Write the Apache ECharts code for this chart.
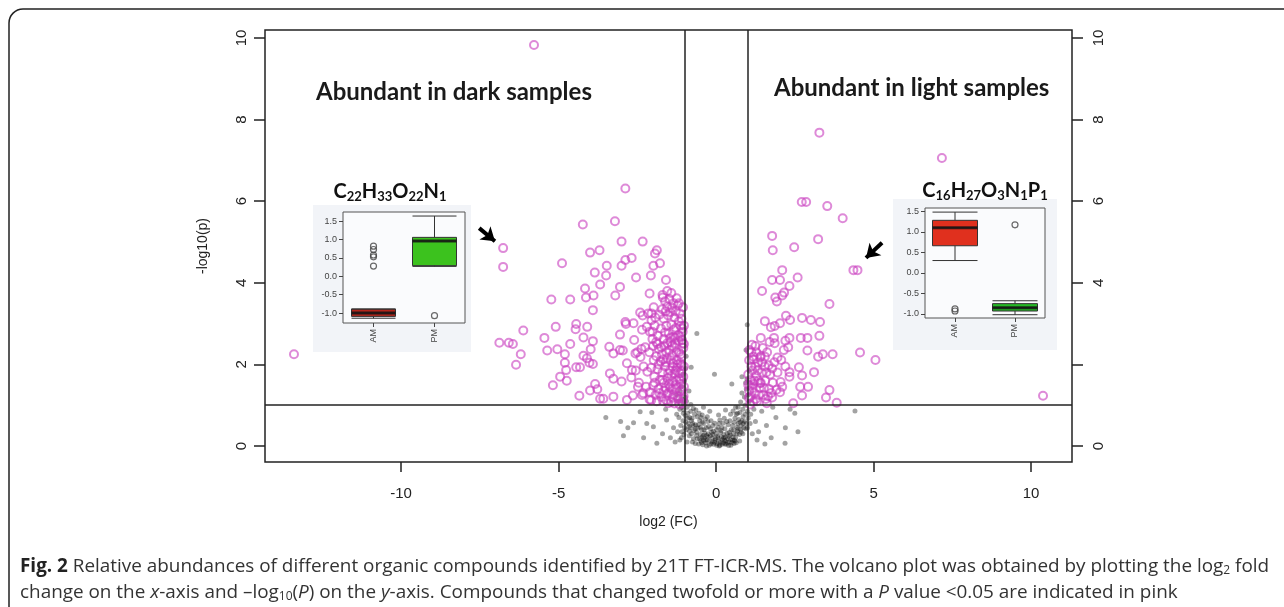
<!DOCTYPE html>
<html>
<head>
<meta charset="utf-8">
<script src="https://cdn.jsdelivr.net/npm/echarts@6/dist/echarts.min.js"></script>
<style>
  html, body { margin: 0; padding: 0; background: #fff; }
  #chart { width: 1284px; height: 607px; }
</style>
</head>
<body>
<div id="chart"></div>
<script>
// volcano plot: x = log2(FC), y = -log10(p)
const xTicks = [-10, -5, 0, 5, 10];
const yTicks = [0, 2, 4, 6, 8, 10];
const yTicksRightLabels = [0, 4, 6, 8, 10];

// significant, lower in light samples (scattered)
const pinkLeft = [
  [-5.78,9.83],[-13.4,2.25],[-6.76,4.85],[-6.76,4.39],[-6.88,2.53],[-6.58,2.53],[-6.45,2.50],[-6.12,2.83],[-6.20,2.25],[-6.35,1.99],
  [-2.88,6.31],[-4.23,5.43],[-3.21,5.51],[-3.00,5.01],[-2.33,5.01],[-4.00,4.74],[-3.70,4.80],[-4.89,4.48],[-2.88,4.56],[-2.68,4.61],
  [-3.00,4.42],[-3.47,4.42],[-1.88,4.80],[-1.94,4.72],[-1.78,4.48],[-1.99,4.42],[-3.85,4.25],[-3.49,4.18],[-2.54,4.13],[-2.07,4.18],
  [-1.59,4.07],[-3.68,3.96],[-3.05,3.90],[-4.16,3.86],[-5.23,3.59],[-4.63,3.59],[-4.13,3.64],[-3.89,3.69],[-3.20,3.69],[-3.91,3.33],
  [-2.11,3.74],[-1.69,3.64],[-5.45,2.65],[-5.36,2.34],[-5.09,2.92],[-5.04,2.37],[-4.80,2.25],[-4.63,2.50],[-4.80,2.04],[-4.76,1.86],
  [-4.95,1.70],[-4.74,1.60],[-5.18,1.49],[-4.44,2.99],[-4.46,2.86],[-4.09,2.92],[-4.21,2.66],[-3.91,2.57],[-3.98,2.37],[-4.21,2.21],
  [-4.10,2.15],[-4.02,2.04],[-3.91,2.01],[-4.44,1.93],[-4.32,1.93],[-3.84,1.52],[-4.00,1.36],[-3.77,1.39],[-4.34,1.23],[-3.68,1.16],
  [-3.58,1.16],[-3.26,1.21],[-3.37,1.78],[-3.26,1.65],[-3.00,1.58],[-3.39,2.43],[-3.26,2.27],[-3.05,2.35],[-2.96,2.34],[-3.05,2.73],
  [-2.88,3.04],[-2.86,2.99],[-2.62,3.01],[-2.41,3.27],[-2.33,3.20],[-2.05,3.25],[-2.83,2.03],[-2.67,1.86],[-2.56,2.27],[-2.37,2.38],
  [-2.69,1.68],[-2.48,1.45],[-2.31,1.29],[-2.64,1.24],[-2.11,1.14],[-2.83,1.13]
];
// dense part next to the -1 cut-off
const pinkLeftDense = [
  [-1.62,3.55],[-1.55,3.42],[-1.48,3.60],[-1.40,3.38],[-1.35,3.50],[-1.28,3.30],[-1.22,3.45],[-1.71,3.35],[-1.80,3.22],[-1.93,3.15],
  [-2.05,3.08],[-1.15,3.25],[-1.10,3.12],[-1.52,3.20],[-1.66,3.12],[-2.20,2.92],[-2.10,2.80],[-1.95,2.95],[-1.85,2.70],[-1.75,2.88],
  [-1.66,2.62],[-1.58,2.95],[-1.50,2.76],[-1.42,2.98],[-1.35,2.68],[-1.27,2.90],[-1.20,2.72],[-1.13,2.95],[-1.06,2.80],[-2.35,2.85],
  [-1.45,2.55],[-1.30,2.52],[-1.18,2.58],[-1.08,2.60],[-1.90,2.55],[-2.02,2.62],[-2.25,2.42],[-2.12,2.30],[-2.00,2.45],[-1.90,2.20],
  [-1.82,2.38],[-1.72,2.25],[-1.64,2.45],[-1.56,2.15],[-1.48,2.35],[-1.40,2.22],[-1.33,2.42],[-1.25,2.10],[-1.18,2.30],[-1.10,2.18],
  [-1.04,2.40],[-1.60,2.05],[-1.36,2.02],[-1.14,2.03],[-2.40,2.18],[-1.76,2.08],[-2.30,1.95],[-2.18,1.82],[-2.06,1.92],[-1.96,1.70],
  [-1.86,1.88],[-1.78,1.62],[-1.70,1.80],[-1.62,1.95],[-1.54,1.66],[-1.46,1.85],[-1.38,1.58],[-1.31,1.78],[-1.24,1.92],[-1.17,1.64],
  [-1.10,1.84],[-1.04,1.70],[-1.50,1.52],[-1.28,1.50],[-1.12,1.52],[-1.66,1.55],[-2.22,1.45],[-2.10,1.32],[-2.00,1.48],[-1.92,1.25],
  [-1.83,1.40],[-1.74,1.20],[-1.66,1.35],[-1.58,1.12],[-1.50,1.30],[-1.42,1.08],[-1.35,1.26],[-1.27,1.40],[-1.20,1.15],[-1.13,1.34],
  [-1.06,1.05],[-1.03,1.22],[-1.88,1.10],[-2.06,1.12],[-1.46,1.44],[-1.60,1.42],[-1.32,1.04],[-1.16,1.02],[-2.35,1.25],[-2.45,1.55],
  [-2.55,1.85],[-2.50,2.30],[-2.60,2.60],[-1.98,3.40],[-2.15,3.25],[-1.25,3.62],[-1.42,3.75],[-1.55,3.80],[-1.70,3.70],[-1.05,3.40],
  [-1.02,2.95],[-1.02,2.50],[-1.02,1.95],[-1.02,1.45],
  [-1.05,1.15],[-1.08,1.38],[-1.12,1.60],[-1.15,1.78],[-1.09,1.98],[-1.12,2.25],[-1.06,2.52],[-1.14,2.68],[-1.07,2.88],[-1.18,3.05],
  [-1.22,1.22],[-1.25,1.62],[-1.28,1.85],[-1.22,2.00],[-1.26,2.30],[-1.30,2.65],[-1.34,2.85],[-1.38,1.18],[-1.40,1.40],[-1.42,1.72],
  [-1.38,1.95],[-1.44,2.10],[-1.40,2.45],[-1.46,2.65],[-1.52,1.05],[-1.55,1.28],[-1.52,1.78],[-1.58,2.30],[-1.55,2.52],[-1.62,2.78],
  [-1.68,1.10],[-1.70,1.62],[-1.68,2.12],[-1.74,2.42],[-1.80,1.30],[-1.82,2.00],[-1.86,2.50],[-1.95,1.55],[-1.98,2.10],[-2.02,2.80],
  [-1.32,3.15],[-1.45,3.28],[-1.18,3.50],[-1.60,3.30]
];
// significant, higher in light samples
const pinkRight = [
  [3.28,7.68],[7.17,7.06],[2.72,5.98],[2.86,5.98],[3.53,5.88],[4.02,5.58],[1.78,5.15],[1.80,4.80],[2.48,4.87],[3.24,5.07],
  [4.36,4.31],[4.49,4.31],[2.10,4.31],[1.78,4.07],[2.03,4.07],[2.59,4.13],[2.33,3.92],[2.16,3.76],[2.10,3.69],[1.88,3.64],
  [1.93,3.54],[1.46,3.80],[3.60,3.48],[2.22,3.19],[2.35,3.09],[2.73,3.14],[3.01,3.09],[3.30,3.04],[1.55,3.06],[1.74,2.91],
  [1.86,2.94],[2.03,3.01],[1.42,2.65],[1.84,2.65],[2.20,2.58],[2.33,2.65],[2.69,2.65],[2.90,2.65],[3.28,2.70],[1.86,2.52],
  [2.29,2.42],[2.90,2.34],[3.24,2.19],[3.39,2.25],[3.70,2.25],[4.57,2.29],[5.06,2.11],[1.14,2.48],[1.19,2.19],[1.40,2.17],
  [1.55,2.19],[1.67,1.98],[1.95,2.17],[2.07,2.11],[2.63,1.93],[2.73,1.73],[2.33,1.81],[3.11,1.81],[2.92,1.45],[3.60,1.37],
  [3.49,1.19],[3.83,1.06],[2.67,1.45],[2.73,1.24],[2.45,1.05],[2.33,1.70],[2.05,1.57],[2.03,1.32],[1.78,1.19],[1.61,1.05],
  [1.40,1.54],[1.19,1.52],[1.08,1.21],[10.38,1.23]
];
const pinkRightDense = [
  [1.05,1.35],[1.10,1.62],[1.15,1.85],[1.22,1.30],[1.28,1.72],[1.33,2.05],[1.38,1.42],[1.45,1.80],[1.50,1.25],[1.56,1.60],
  [1.62,2.30],[1.68,1.40],[1.72,1.75],[1.80,1.55],[1.85,2.05],[1.92,1.38],[1.05,2.10],[1.12,2.30],[1.25,2.45],[1.30,1.10],
  [1.48,2.40],[1.58,1.15],[1.70,2.55],[1.08,1.02],[1.18,1.08],[1.35,1.60],[1.42,2.20],[1.55,1.95],[1.65,1.22],[1.78,1.90],
  [1.02,1.75],[1.02,1.50],[1.25,1.95],[1.95,1.80],[2.10,1.45],[2.20,1.95],[2.15,2.35],
  [1.04,1.18],[1.08,1.48],[1.12,1.95],[1.18,2.12],[1.22,1.60],[1.26,1.15],[1.32,1.85],[1.36,1.25],[1.42,1.55],[1.46,2.05],
  [1.52,1.42],[1.60,1.80],[1.06,2.35],[1.16,1.42],[1.28,2.30],[1.75,1.30]
];
// not significant
const grey = [
  [-0.55,0.05],[-0.48,0.12],[-0.42,0.03],[-0.38,0.20],[-0.33,0.08],[-0.28,0.15],[-0.22,0.02],[-0.18,0.25],[-0.12,0.10],[-0.08,0.04],
  [-0.02,0.18],[0.03,0.06],[0.08,0.12],[0.12,0.02],[0.17,0.22],[0.22,0.08],[0.27,0.15],[0.32,0.04],[0.37,0.18],[0.42,0.10],
  [0.47,0.02],[0.52,0.14],[0.57,0.06],[-0.50,0.28],[-0.36,0.32],[-0.25,0.30],[-0.14,0.34],[0.00,0.30],[0.14,0.33],[0.25,0.28],
  [0.35,0.31],[0.45,0.27],[0.55,0.30],[-0.60,0.18],[0.62,0.20],[-0.45,0.22],[0.05,0.24],[0.30,0.22],[-0.30,0.00],[0.10,0.00],
  [0.40,0.01],[-0.05,0.09],[0.20,0.16],[-0.20,0.12],[0.50,0.08],
  [-0.95,0.40],[-0.88,0.55],[-0.82,0.45],[-0.76,0.68],[-0.70,0.38],[-0.65,0.52],[-0.58,0.44],[-0.52,0.62],[-0.46,0.40],[-0.40,0.55],
  [-0.32,0.45],[-0.26,0.60],[-0.18,0.42],[-0.10,0.50],[0.02,0.40],[0.10,0.55],[0.18,0.45],[0.28,0.42],[0.38,0.52],[0.48,0.40],
  [0.58,0.58],[0.66,0.46],[0.72,0.65],[0.80,0.50],[0.86,0.72],[-0.98,0.75],[-0.90,0.80],[-0.84,0.70],[-0.68,0.78],[-0.60,0.72],
  [-0.44,0.76],[0.64,0.78],[0.76,0.82],[0.90,0.60],[0.94,0.42],[-1.05,0.62],[-1.12,0.50],[-1.18,0.70],[-1.08,0.35],
  [-1.15,0.90],[-1.05,1.05],[-0.98,1.20],[-0.92,0.95],[-0.86,1.35],[-1.10,1.45],[-1.00,1.60],[-0.94,1.10],[-0.80,1.02],[-0.72,0.92],
  [-1.20,1.10],[-1.02,0.88],[0.70,0.95],[0.78,1.08],[0.85,0.90],[0.90,1.20],[0.96,1.40],[0.82,1.30],[0.92,1.00],[1.00,0.85],
  [1.06,1.10],[1.10,0.78],[0.98,1.65],[-0.61,2.76],[-0.79,1.93],[-0.05,1.76],[0.82,1.70],[0.50,1.52],[0.99,2.97],[-0.95,2.20],
  [0.95,2.35],[-0.40,0.95],[0.30,0.88],[-0.20,0.85],
  [-1.22,0.35],[-1.15,0.15],[-1.02,0.28],[-0.92,0.10],[-0.86,0.48],[-0.78,0.30],[-0.72,0.18],[-0.66,0.06],[-0.62,0.34],[-0.56,0.52],
  [-0.50,0.46],[-0.44,0.58],[-0.38,0.40],[-0.34,0.66],[-0.30,0.26],[-0.24,0.48],[-0.16,0.62],[-0.08,0.36],[-0.04,0.56],[0.06,0.46],
  [0.12,0.64],[0.16,0.38],[0.22,0.56],[0.26,0.68],[0.34,0.60],[0.42,0.34],[0.44,0.62],[0.52,0.50],[0.56,0.40],[0.60,0.68],
  [0.68,0.36],[0.70,0.55],[0.74,0.28],[0.78,0.40],[0.82,0.62],[0.88,0.45],[0.92,0.78],[0.96,0.55],[1.02,0.68],[1.08,0.55],
  [-0.96,0.58],[-1.00,0.45],[-1.04,0.80],[-1.10,0.95],[-0.90,0.68],[-0.80,0.85],[-0.74,0.55],[-0.64,0.88],[-0.54,0.80],[-0.48,0.70],
  [0.46,0.78],[0.54,0.86],[0.62,0.95],[0.68,0.80],[-0.28,0.72],[0.08,0.76],[-0.12,0.20],[0.28,0.05],[-0.40,0.14],[0.60,0.12],
  [-1.25,1.25],[-1.15,1.35],[-1.05,1.75],[-0.97,1.90],[1.02,1.25],[0.94,1.55],[1.05,1.85],[-1.08,1.15],
  [-0.52,0.18],[-0.46,0.08],[-0.40,0.26],[-0.34,0.14],[-0.26,0.22],[-0.16,0.05],[-0.10,0.28],[-0.04,0.14],[0.02,0.02],[0.06,0.20],
  [0.14,0.10],[0.19,0.04],[0.24,0.20],[0.30,0.12],[0.36,0.08],[0.40,0.24],[0.46,0.16],[0.54,0.22],[0.58,0.14],[0.64,0.08],
  [-0.62,0.26],[-0.66,0.42],[-0.72,0.50],[-0.78,0.62],[-0.84,0.36],[0.66,0.30],[0.70,0.42],[0.76,0.58],[0.80,0.34],[0.86,0.55],
  [-3.03,0.60],[-2.62,0.57],[-2.94,0.25],[-2.41,0.84],[-2.04,0.82],[-1.88,0.07],[-1.57,0.64],[-1.25,0.78],[-1.99,0.47],[-1.70,0.30],
  [-1.45,0.20],[-1.35,0.45],[-1.60,0.90],[-2.20,0.55],[-1.30,0.10],[1.25,0.60],[1.35,0.35],[1.45,0.85],[1.60,0.50],[1.75,0.20],
  [1.90,0.70],[2.19,0.07],[2.20,0.45],[2.35,0.90],[1.55,0.05],[4.41,0.86],[1.20,0.90],[1.30,0.15],[-1.10,0.20],[-0.75,0.10],
  [0.75,0.12],[0.85,0.30],[-0.85,0.25],[1.00,0.45],[1.15,0.30],[-2.80,0.45],[-3.50,0.70],[-2.30,0.20],[2.60,0.35],[1.80,0.95],
  [2.50,0.80]
];
const fcCut = [-1, 1];
const pCut = 1;
const arrowLeft = [[-7.52, 5.34], [-7.02, 5.02]];
const arrowRight = [[5.27, 4.98], [4.76, 4.61]];

// inset box plots: [min, Q1, median, Q3, max]
const groups = ['AM', 'PM'];
const insetTicks = [-1, -0.5, 0, 0.5, 1, 1.5];
const box1 = [[-1.14, -1.09, -1.0, -0.89, -0.89], [0.27, 0.29, 0.96, 1.06, 1.64]];
const out1 = [['AM', 0.82], ['AM', 0.73], ['AM', 0.58], ['AM', 0.53], ['AM', 0.28], ['PM', -1.07]];
const box2 = [[0.30, 0.66, 1.10, 1.28, 1.48], [-1.02, -0.93, -0.85, -0.75, -0.68]];
const out2 = [['AM', -0.88], ['AM', -0.93], ['PM', 1.17]];

const chart = echarts.init(document.getElementById('chart'));
const axisFont = 'Liberation Sans';

function insetAxes(grid, min, max) {
  return {
    x: {
      type: 'category', gridIndex: grid, data: groups, z: 12,
      axisLine: { show: false, onZero: false },
      axisTick: { show: true, alignWithLabel: true, length: 4, lineStyle: { color: '#444' } },
      axisLabel: { rotate: 90, fontSize: 9, color: '#444', margin: 6, fontFamily: axisFont }
    },
    y: {
      type: 'value', gridIndex: grid, min: min, max: max, z: 12,
      splitLine: { show: false },
      axisLine: { show: false, onZero: false },
      axisTick: { show: true, length: 4, customValues: insetTicks, lineStyle: { color: '#444' } },
      axisLabel: { fontSize: 9, color: '#444', margin: 6, fontFamily: axisFont,
        customValues: insetTicks, formatter: v => v.toFixed(1) }
    }
  };
}
const in1 = insetAxes(1, -1.27, 1.75);
const in2 = insetAxes(2, -1.10, 1.58);

const medianOf = b => b.map((d, i) => [groups[i], d[2]]);

const subRich = {
  sub: { fontSize: 13, fontWeight: 'bold', fontFamily: 'Lato', fill: '#111', padding: [9, 0, 0, 0] }
};
const capSize = 18.9;

chart.setOption({
  animation: false,
  grid: [
    { left: 265, top: 30, width: 807, height: 432, show: true, borderColor: '#222', borderWidth: 1.5 },
    { left: 343, top: 212, width: 122, height: 111, show: true, z: 11, borderColor: '#555', borderWidth: 1, backgroundColor: '#fafbfd' },
    { left: 925, top: 208, width: 120, height: 110, show: true, z: 11, borderColor: '#555', borderWidth: 1, backgroundColor: '#fafbfd' }
  ],
  xAxis: [
    {
      type: 'value', gridIndex: 0, min: -14.32, max: 11.3,
      name: 'log2 (FC)', nameLocation: 'middle', nameGap: 53,
      nameTextStyle: { fontSize: 14, color: '#222', fontFamily: axisFont },
      splitLine: { show: false },
      axisLine: { show: false, onZero: false },
      axisTick: { show: true, length: 10, customValues: xTicks, lineStyle: { color: '#222', width: 1.5 } },
      axisLabel: { customValues: xTicks, fontSize: 15, color: '#222', margin: 24, fontFamily: axisFont }
    },
    in1.x, in2.x
  ],
  yAxis: [
    {
      type: 'value', gridIndex: 0, min: -0.392, max: 10.196,
      name: '-log10(p)', nameLocation: 'middle', nameGap: 55,
      nameTextStyle: { fontSize: 14, color: '#222', fontFamily: axisFont },
      splitLine: { show: false },
      axisLine: { show: false, onZero: false },
      axisTick: { show: true, length: 11, customValues: yTicks, lineStyle: { color: '#222', width: 1.5 } },
      axisLabel: { customValues: yTicks, rotate: 90, fontSize: 15, color: '#222', margin: 16, fontFamily: axisFont }
    },
    {
      type: 'value', gridIndex: 0, position: 'right', min: -0.392, max: 10.196,
      splitLine: { show: false },
      axisLine: { show: false, onZero: false },
      axisTick: { show: true, length: 11, customValues: yTicks, lineStyle: { color: '#222', width: 1.5 } },
      axisLabel: { customValues: yTicksRightLabels, rotate: 90, fontSize: 15, color: '#222', margin: 19, fontFamily: axisFont }
    },
    in1.y, in2.y
  ],
  graphic: [
    { type: 'rect', z: 0, shape: { x: 9, y: 9, width: 1320, height: 640, r: 14 },
      style: { fill: 'none', stroke: '#222', lineWidth: 1.5 } },
    { type: 'rect', z: 10, shape: { x: 313, y: 205, width: 158, height: 147 }, style: { fill: '#f2f4f8' } },
    { type: 'rect', z: 10, shape: { x: 893, y: 199, width: 164, height: 151 }, style: { fill: '#f2f4f8' } },
    { type: 'text', z: 20, x: 316, y: 92,
      style: { text: 'Abundant in dark samples', font: 'bold 24px Lato', fill: '#1a1a1a', verticalAlign: 'middle' } },
    { type: 'text', z: 20, x: 774, y: 88,
      style: { text: 'Abundant in light samples', font: 'bold 24px Lato', fill: '#1a1a1a', verticalAlign: 'middle' } },
    { type: 'text', z: 20, x: 390, y: 192,
      style: { text: 'C{sub|22}H{sub|33}O{sub|22}N{sub|1}', font: 'bold 20px Lato', fill: '#111',
        align: 'center', verticalAlign: 'middle', rich: subRich } },
    { type: 'text', z: 20, x: 985, y: 191,
      style: { text: 'C{sub|16}H{sub|27}O{sub|3}N{sub|1}P{sub|1}', font: 'bold 20px Lato', fill: '#111',
        align: 'center', verticalAlign: 'middle', rich: subRich } },
    { type: 'text', z: 20, x: 20, y: 567,
      style: {
        text: '{b|Fig. 2} Relative abundances of different organic compounds identified by 21T FT-ICR-MS. The volcano plot was obtained by plotting the log{s|2} fold',
        font: capSize + 'px "Open Sans"', fill: '#333', verticalAlign: 'middle',
        rich: {
          b: { fontWeight: 'bold', fontSize: capSize, fontFamily: 'Open Sans', fill: '#222' },
          s: { fontSize: 12, fontFamily: 'Open Sans', fill: '#333', padding: [8, 0, 0, 0] }
        }
      } },
    { type: 'text', z: 20, x: 20, y: 593,
      style: {
        text: 'change on the {i|x}-axis and –log{s|10}({i|P}) on the {i|y}-axis. Compounds that changed twofold or more with a {i|P} value <0.05 are indicated in pink',
        font: capSize + 'px "Open Sans"', fill: '#333', verticalAlign: 'middle',
        rich: {
          i: { fontStyle: 'italic', fontSize: capSize, fontFamily: 'Open Sans', fill: '#333' },
          s: { fontSize: 12, fontFamily: 'Open Sans', fill: '#333', padding: [8, 0, 0, 0] }
        }
      } }
  ],
  series: [
    {
      type: 'scatter', xAxisIndex: 0, yAxisIndex: 0, z: 2,
      data: grey, symbolSize: 5, silent: true,
      itemStyle: { color: 'rgba(0,0,0,0.45)' },
      markLine: {
        silent: true, symbol: 'none', label: { show: false },
        lineStyle: { color: '#222', type: 'solid', width: 1.5 },
        data: [{ xAxis: fcCut[0] }, { xAxis: fcCut[1] }, { yAxis: pCut }]
      }
    },
    {
      type: 'scatter', xAxisIndex: 0, yAxisIndex: 0, z: 3,
      data: pinkLeft.concat(pinkLeftDense, pinkRight, pinkRightDense),
      symbolSize: 8, silent: true,
      itemStyle: { color: 'rgba(0,0,0,0)', borderColor: 'rgba(200,60,190,0.75)', borderWidth: 2 },
      markLine: {
        silent: true, symbol: ['none', 'arrow'], symbolSize: 13, label: { show: false },
        lineStyle: { color: '#000', type: 'solid', width: 4 },
        data: [
          [{ coord: arrowLeft[0] }, { coord: arrowLeft[1] }],
          [{ coord: arrowRight[0] }, { coord: arrowRight[1] }]
        ]
      }
    },
    // inset 1
    { type: 'boxplot', xAxisIndex: 1, yAxisIndex: 2, z: 13, boxWidth: [44, 44],
      data: [{ value: box1[0], itemStyle: { color: '#b3261c' } }, { value: box1[1], itemStyle: { color: '#3cc21e' } }],
      itemStyle: { borderColor: '#333', borderWidth: 1 } },
    { type: 'scatter', xAxisIndex: 1, yAxisIndex: 2, z: 14, data: medianOf(box1),
      symbol: 'rect', symbolSize: [44, 3], itemStyle: { color: '#111' } },
    { type: 'scatter', xAxisIndex: 1, yAxisIndex: 2, z: 14, data: out1, symbolSize: 6,
      itemStyle: { color: 'rgba(0,0,0,0)', borderColor: '#444', borderWidth: 1.2 } },
    // inset 2
    { type: 'boxplot', xAxisIndex: 2, yAxisIndex: 3, z: 13, boxWidth: [45, 45],
      data: [{ value: box2[0], itemStyle: { color: '#e0301e' } }, { value: box2[1], itemStyle: { color: '#25b825' } }],
      itemStyle: { borderColor: '#333', borderWidth: 1 } },
    { type: 'scatter', xAxisIndex: 2, yAxisIndex: 3, z: 14, data: medianOf(box2),
      symbol: 'rect', symbolSize: [45, 3], itemStyle: { color: '#111' } },
    { type: 'scatter', xAxisIndex: 2, yAxisIndex: 3, z: 14, data: out2, symbolSize: 6,
      itemStyle: { color: 'rgba(0,0,0,0)', borderColor: '#444', borderWidth: 1.2 } }
  ]
});
</script>
</body>
</html>
